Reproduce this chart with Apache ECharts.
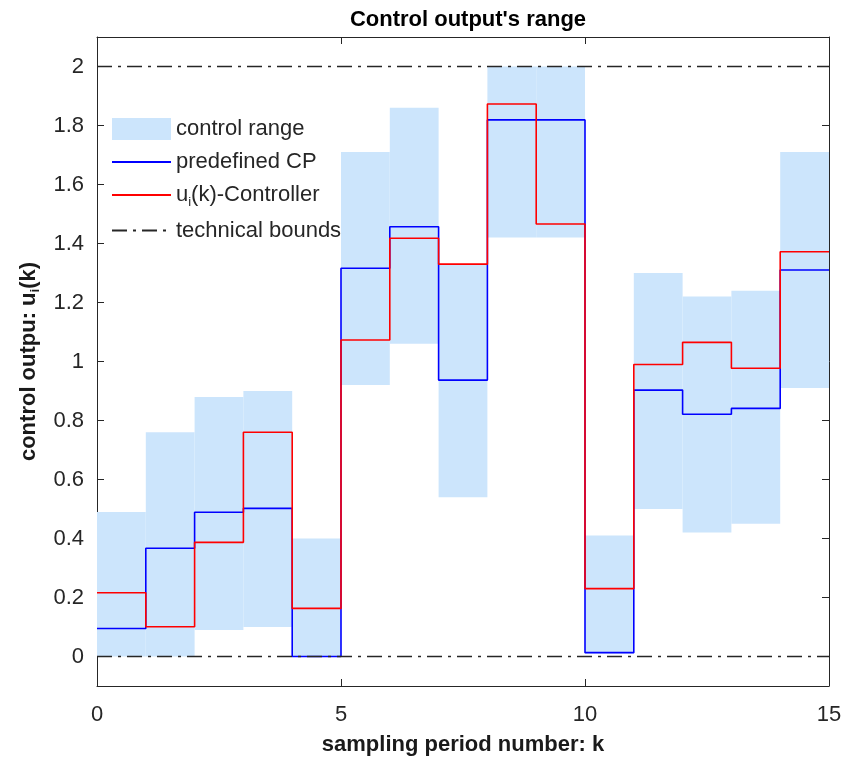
<!DOCTYPE html>
<html>
<head>
<meta charset="utf-8">
<script src="https://cdn.jsdelivr.net/npm/echarts@6/dist/echarts.min.js"></script>
<style>
html, body { margin: 0; padding: 0; background: #fff; }
#chart { width: 842px; height: 757px; }
</style>
</head>
<body>
<div id="chart"></div>
<script>
// sampling periods k = 0..14 (each value holds from k to k+1)
const periods = [0, 1, 2, 3, 4, 5, 6, 7, 8, 9, 10, 11, 12, 13, 14];

// control range (light blue band)
const rangeLow  = [0.00, 0.00, 0.09, 0.10, 0.00, 0.92, 1.06, 0.54, 1.42, 1.42, 0.01, 0.50, 0.42, 0.45, 0.91];
const rangeHigh = [0.49, 0.76, 0.88, 0.90, 0.40, 1.71, 1.86, 1.33, 2.00, 2.00, 0.41, 1.30, 1.22, 1.24, 1.71];

// predefined CP (blue)
const predefinedCP = [0.095, 0.367, 0.489, 0.502, 0.00, 1.316, 1.457, 0.937, 1.819, 1.819, 0.013, 0.903, 0.821, 0.841, 1.31];
// u_i(k)-Controller (red)
const controller = [0.216, 0.101, 0.387, 0.76, 0.163, 1.073, 1.418, 1.33, 1.873, 1.466, 0.23, 0.99, 1.065, 0.977, 1.372];

// technical bounds
const upperBound = 2;
const lowerBound = 0;

const yTicks = [0, 0.2, 0.4, 0.6, 0.8, 1, 1.2, 1.4, 1.6, 1.8, 2];
const xMax = 15;

const axisColor = '#262626';
const font = 'Liberation Sans, Arial, Helvetica, sans-serif';
const fs = 22;

// step data: add a closing point at k = 15
function stepData(values) {
    const d = periods.map((k, i) => [k, values[i]]);
    d.push([xMax, values[values.length - 1]]);
    return d;
}

const dashDot = [15, 6, 3, 6];
// hide the symbol ECharts puts on line legend icons
const noSymbol = { opacity: 0 };

const chart = echarts.init(document.getElementById('chart'));
chart.setOption({
    animation: false,
    title: {
        text: "Control output's range",
        left: 463,
        textAlign: 'center',
        top: 4,
        textStyle: { fontFamily: font, fontSize: fs, fontWeight: 'bold', color: '#000' }
    },
    // fixed plot box, don't let labels shrink it
    grid: { left: 97, right: 13, top: 37, bottom: 71, containLabel: false, outerBoundsMode: 'none' },
    legend: {
        orient: 'vertical',
        left: 106,
        top: 113,
        itemWidth: 59,
        itemHeight: 22,
        itemGap: 11,
        textStyle: {
            fontFamily: font, fontSize: fs, color: axisColor,
            rich: { sub: { fontFamily: font, fontSize: 13, color: axisColor, verticalAlign: 'bottom', padding: [14, 0, 0, 0] } }
        },
        formatter: function (name) {
            if (name === 'controller') return 'u{sub|i}(k)-Controller';
            return name;
        },
        data: [
            { name: 'control range', icon: 'rect', itemStyle: { color: '#cce5fc' } },
            { name: 'predefined CP', itemStyle: noSymbol },
            { name: 'controller', itemStyle: noSymbol },
            { name: 'technical bounds', itemStyle: noSymbol }
        ]
    },
    xAxis: [
        {
            type: 'value', min: 0, max: xMax, interval: 5,
            axisLine: { onZero: false, lineStyle: { color: axisColor, width: 1 } },
            axisTick: { inside: true, length: 7, lineStyle: { color: axisColor } },
            axisLabel: { margin: 18, fontFamily: font, fontSize: fs, color: axisColor },
            splitLine: { show: false },
            name: 'sampling period number: k',
            nameLocation: 'middle',
            nameGap: 48,
            nameTextStyle: { fontFamily: font, fontSize: fs, fontWeight: 'bold', color: '#1a1a1a' }
        },
        {
            type: 'value', min: 0, max: xMax, interval: 5, position: 'top',
            axisLine: { onZero: false, lineStyle: { color: axisColor, width: 1 } },
            axisTick: { inside: true, length: 7, lineStyle: { color: axisColor } },
            axisLabel: { show: false },
            splitLine: { show: false }
        }
    ],
    yAxis: [
        {
            type: 'value', min: -0.1, max: 2.1,
            axisLine: { onZero: false, lineStyle: { color: axisColor, width: 1 } },
            axisTick: { inside: true, length: 7, customValues: yTicks, lineStyle: { color: axisColor } },
            axisLabel: { margin: 13, customValues: yTicks, fontFamily: font, fontSize: fs, color: axisColor },
            splitLine: { show: false },
            name: 'control outpu: u{sub|i}(k)',
            nameLocation: 'middle',
            nameRotate: 90,
            nameGap: 55,
            nameTextStyle: {
                fontFamily: font, fontSize: fs, fontWeight: 'bold', color: '#1a1a1a',
                rich: { sub: { fontFamily: font, fontSize: 13, fontWeight: 'bold', color: '#1a1a1a', verticalAlign: 'bottom', padding: [14, 0, 0, 0] } }
            }
        },
        {
            type: 'value', min: -0.1, max: 2.1, position: 'right',
            axisLine: { onZero: false, lineStyle: { color: axisColor, width: 1 } },
            axisTick: { inside: true, length: 7, customValues: yTicks, lineStyle: { color: axisColor } },
            axisLabel: { show: false },
            splitLine: { show: false }
        }
    ],
    series: [
        {
            name: 'control range',
            type: 'custom',
            z: 1,
            itemStyle: { color: '#cce5fc' },
            data: periods.map((k, i) => [k, rangeLow[i], rangeHigh[i]]),
            encode: { x: 0, y: [1, 2] },
            renderItem: function (params, api) {
                const k = api.value(0);
                const p0 = api.coord([k, api.value(2)]);
                const p1 = api.coord([k + 1, api.value(1)]);
                return {
                    type: 'rect',
                    shape: { x: p0[0], y: p0[1], width: p1[0] - p0[0], height: p1[1] - p0[1] },
                    style: { fill: '#cce5fc' }
                };
            }
        },
        {
            name: 'predefined CP',
            type: 'line',
            step: 'end',
            symbol: 'none',
            z: 3,
            data: stepData(predefinedCP),
            itemStyle: { color: '#0000ff' },
            lineStyle: { color: '#0000ff', width: 1.6 }
        },
        {
            name: 'controller',
            type: 'line',
            step: 'end',
            symbol: 'none',
            z: 4,
            data: stepData(controller),
            itemStyle: { color: '#ff0000' },
            lineStyle: { color: '#ff0000', width: 1.6 }
        },
        {
            name: 'technical bounds',
            type: 'line',
            symbol: 'none',
            z: 5,
            data: [[0, upperBound], [xMax, upperBound]],
            itemStyle: { color: axisColor },
            lineStyle: { color: axisColor, width: 1.6, type: dashDot }
        },
        {
            name: 'technical bounds',
            type: 'line',
            symbol: 'none',
            z: 5,
            data: [[0, lowerBound], [xMax, lowerBound]],
            itemStyle: { color: axisColor },
            lineStyle: { color: axisColor, width: 1.6, type: dashDot }
        }
    ]
});
</script>
</body>
</html>
